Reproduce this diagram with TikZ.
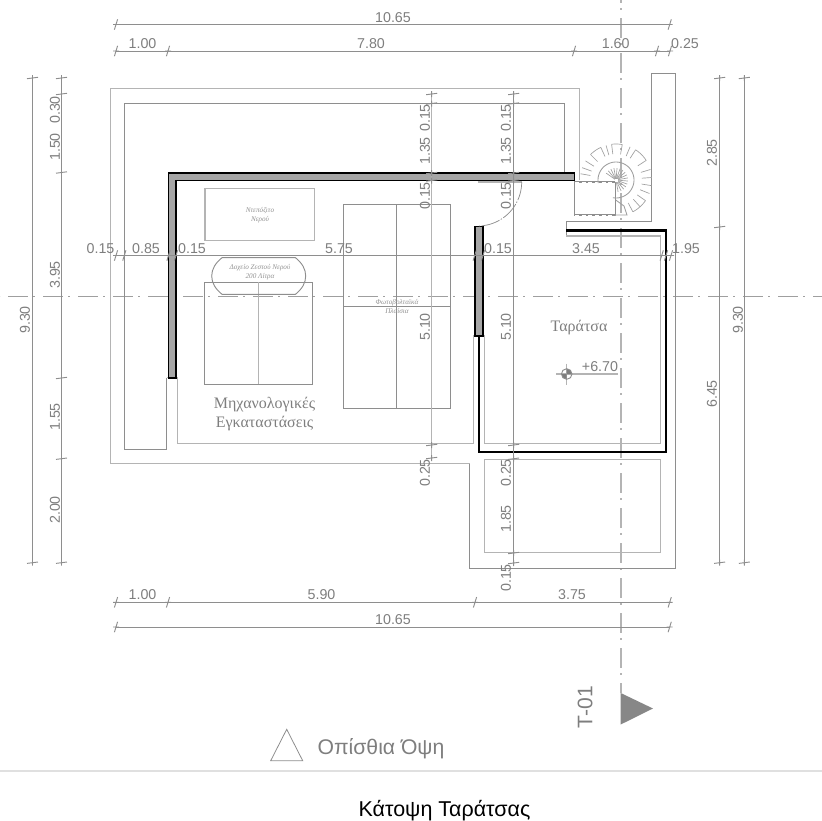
\documentclass[tikz,border=0pt]{standalone}
\usepackage{fontspec}
\setmainfont{Liberation Sans}
\newfontfamily\grserif{Liberation Serif}
\definecolor{ln}{HTML}{8E8E8E}
\definecolor{lnl}{HTML}{B4B4B4}
\definecolor{tx}{HTML}{7E7E7E}
\definecolor{wallfill}{HTML}{A6A6A6}
\tikzset{
  thinln/.style={draw=ln,line width=0.7pt},
  lightln/.style={draw=lnl,line width=0.85pt},
  dimline/.style={draw=ln,line width=0.7pt},
  dimtext/.style={text=tx,font=\fontsize{10.7}{12}\selectfont,inner sep=0pt},
  dimtextv/.style={dimtext,rotate=90},
  wallshape/.style={fill=wallfill,draw=black,line width=1.15pt},
  blackwall/.style={draw=black,line width=2.1pt},
  smalltext/.style={text=tx!85,font=\grserif\itshape\fontsize{5.4}{6}\selectfont,inner sep=0pt},
  roomtext/.style={text=tx,font=\grserif\fontsize{12}{13.5}\selectfont,inner sep=0pt,align=center},
  tread/.style={draw=ln!85,line width=0.5pt}
}
\newcommand{\htick}[2]{\draw[dimline] (#1-1.6,#2+5.2) -- (#1+1.6,#2-5.2) (#1-3,#2) -- (#1+3,#2);}
\newcommand{\vtick}[2]{\draw[dimline] (#1-5.5,#2+0.7) -- (#1+5.5,#2-0.7) (#1,#2-3) -- (#1,#2+3);}
\begin{document}
\begin{tikzpicture}[x=0.75pt,y=-0.75pt]
\useasboundingbox (0,0) rectangle (822,821);
% axes
\draw[draw=ln!85,line width=0.65pt,dash pattern=on 15pt off 3.75pt on 1.5pt off 6pt,dash phase=20.25pt] (0,296) -- (822,296);
\draw[draw=lnl,line width=0.85pt,dash pattern=on 15pt off 3.75pt on 1.5pt off 6pt,dash phase=12.75pt] (621,0) -- (621,693);
% roof outline
\draw[lightln] (579.3,173) -- (579.3,88.5) -- (110.5,88.5) -- (110.5,463.7) -- (469.7,463.7);
\draw[thinln] (469.7,463.7) -- (469.7,568) -- (675.3,568) -- (675.3,73.3) -- (651.3,73.3) -- (651.3,221.3) -- (566,221.3) -- (566,236);
\draw[lightln] (566,236) -- (660.3,236) -- (660.3,443.7) -- (484.3,443.7) -- (484.3,336) -- (473.3,336) -- (473.3,443.7) -- (177.7,443.7) -- (177.7,377.7) -- (166.7,377.7);
\draw[thinln] (166.7,377.7) -- (166.7,449) -- (124.3,449) -- (124.3,103.3) -- (564.3,103.3) -- (564.3,173);
\draw[lightln] (579.3,173) -- (579.3,180);
\draw[lightln] (484.3,459.7) rectangle (660.3,552.7);
% equipment
\draw[lightln] (205,188.3) rectangle (314.3,240.3);
\draw[thinln] (204.7,384.3) -- (204.7,282.3) -- (312.7,282.3) -- (312.7,384.3) -- cycle;
\draw[lightln] (258.7,282.3) -- (258.7,384.3);
\draw[thinln] (343,204.3) rectangle (450.7,408.3);
\draw[thinln] (396.7,204.3) -- (396.7,408.3);
\draw[thinln] (343,306) -- (450.7,306);
\draw[thinln] (222,257.7) -- (295.5,257.7) .. controls (302,263) and (305.7,269) .. (305.7,276) .. controls (305.7,283) and (302,289) .. (295.5,294.3) -- (222,294.3) .. controls (215.5,289) and (211.7,283) .. (211.7,276) .. controls (211.7,269) and (215.5,263) .. (222,257.7) -- cycle;
% walls
\draw[wallshape] (168.7,378) -- (168.7,173.2) -- (574.3,173.2) -- (574.3,180.6) -- (176,180.6) -- (176,378) -- cycle;
\draw[wallshape] (475,336) -- (475,226.5) -- (483,226.5) -- (483,336) -- cycle;
\draw[blackwall] (479,336) -- (479,452) -- (666,452) -- (666,230.5) -- (566,230.5);
% door
\draw[draw=lnl,line width=1.6pt] (477.7,182) -- (521.7,182);
\draw[draw=ln,line width=0.55pt,dash pattern=on 14pt off 1.2pt on 1pt off 1.2pt] plot[domain=0:90,samples=24,variable=\t] ({477.7+44*cos(\t)},{182+44*sin(\t)});
% stair
\draw[thinln] (574.3,182) -- (574.3,215);
\draw[thinln] (615.7,182) -- (615.7,215);
\foreach \yy in {182,215}{
  \draw[draw=ln,line width=2.2pt] (574,\yy) -- (615.7,\yy);
  \draw[draw=white,line width=0.5pt,dash pattern=on 3pt off 2pt] (575,\yy) -- (615,\yy);
}
\draw[tread,line width=0.65pt] plot[domain=190:-100,samples=50,variable=\t] ({616+18*cos(\t)},{180-18*sin(\t)});
\foreach \a in {-80,-65,...,150}{
  \draw[tread] (616,180) -- ({616+12*cos(\a)},{180-12*sin(\a)});
}
\foreach \a in {-62,-48,-35,-22,-9,4,17,33,57,67,80,97,106,115,135,148,160,170}{
  \draw[tread] ({616+26*cos(\a)},{180-26*sin(\a)}) -- ({616+36*cos(\a)},{180-36*sin(\a)});
}
\foreach \a/\b in {-62/-35,33/57,80/97,115/135}{
  \draw[tread] plot[domain=\a:\b,samples=7,variable=\t] ({616+36*cos(\t)},{180-36*sin(\t)});
}
\draw[tread,line width=0.65pt] (615.7,200) -- (624,206) -- (627,215) -- (616,215);
\fill[white] (614.5,178.5) rectangle (617.5,181.5);
% dimension lines
\draw[dimline] (116,24.5) -- (669.7,24.5);
\draw[dimline] (116,51) -- (669.7,51);
\draw[dimline] (116,602.3) -- (669.7,602.3);
\draw[dimline] (116,627) -- (669.7,627);
\draw[dimline] (116,255.5) -- (671,255.5);
\draw[dimline] (32.5,78) -- (32.5,562.7);
\draw[dimline] (61.5,78) -- (61.5,562.7);
\draw[dimline] (719.7,78) -- (719.7,562.7);
\draw[dimline] (744.3,78) -- (744.3,562.7);
\draw[draw=lnl,line width=0.8pt] (431.7,94) -- (431.7,458);
\draw[dimline] (513.7,94) -- (513.7,563);
\foreach \xx/\yy in {116/24.5,669.7/24.5,116/51,168/51,574/51,657/51,670/51,116/602.3,168/602.3,475/602.3,669.7/602.3,116/627,669.7/627,116/255.5,124.3/255.5,168.5/255.5,176/255.5,474.7/255.5,483/255.5,661.7/255.5,666/255.5,671/255.5}{\htick{\xx}{\yy}}
\foreach \xx/\yy in {32.5/78,32.5/562.7,61.5/78,61.5/94,61.5/172.5,61.5/378,61.5/458.7,61.5/562.7,719.7/78,719.7/227,719.7/562.7,744.3/78,744.3/562.7,431.7/94,431.7/103.5,431.7/173,431.7/180.5,431.7/445,431.7/458,513.7/94,513.7/103.5,513.7/173,513.7/180.5,513.7/445,513.7/458.7,513.7/553,513.7/563}{\vtick{\xx}{\yy}}
% horizontal labels
\foreach \xx/\yy/\t [count=\i] in {393/18/10.65,142.5/44/1.00,371/44/7.80,615.7/44/1.60,685/44/0.25,100.5/248.5/0.15,146/248.5/0.85,192/248.5/0.15,339/248.5/5.75,498/248.5/0.15,586/248.5/3.45,686/248.5/1.95,142.5/595/1.00,321.5/595/5.90,572/595/3.75,393/620/10.65,600/367/+6.70}{
  \node[dimtext] (hl\i) at (\xx,\yy) {\t};
}
% vertical labels
\foreach \xx/\yy/\t [count=\i] in {25/320/9.30,55/110/0.30,55/147/1.50,55/275/3.95,55/417/1.55,55/510/2.00,425/118/0.15,425/151/1.35,425/196/0.15,425/327/5.10,425/473/0.25,506/118/0.15,506/151/1.35,506/196/0.15,506/327/5.10,506/473/0.25,506/519/1.85,506/578/0.15,712/153/2.85,712/394/6.45,738/320/9.30}{
  \node[dimtextv] (vl\i) at (\xx,\yy) {\t};
}
% room labels
\node[roomtext] (mech) at (264.5,414) {Μηχανολογικές\\[0.1pt]Εγκαταστάσεις};
\node[roomtext] (roof) at (579,328) {Ταράτσα};
\node[smalltext,align=center] (tank) at (260,215) {Ντεπόζιτο\\[1pt]Νερού};
\node[smalltext,align=center] (boiler) at (260,272) {Δοχείο Ζεστού Νερού\\[1pt]200 Λίτρα};
\node[smalltext,align=center] (pv) at (397,306.5) {Φωτοβολταϊκά\\[1pt]Πλαίσια};
% level mark
\draw[lightln] (556,374) -- (618.3,374);
\draw[lightln] (566.7,363.5) -- (566.7,384.5);
\fill[tx] (566.7,374) -- (572,374) arc[start angle=0,end angle=-90,radius=5.3] -- cycle;
\fill[tx] (566.7,374) -- (561.4,374) arc[start angle=180,end angle=90,radius=5.3] -- cycle;
\draw[draw=ln,line width=0.7pt] (566.7,374) circle[radius=5.3];
% section mark
\fill[fill=ln!95!black] (620.7,693) -- (620.7,724.5) -- (653,708.5) -- cycle;
\node[text=tx,font=\fontsize{15.8}{18}\selectfont,rotate=90,inner sep=0pt] (sec) at (585,707) {T-01};
% view
\draw[thinln,line width=0.6pt] (270.7,760.7) -- (302.7,760.7) -- (286.7,729.3) -- cycle;
\node[text=tx,font=\fontsize{15.9}{17}\selectfont,inner sep=0pt] (view) at (381,749) {Οπίσθια Όψη};
\draw[draw=black!12,line width=0.8pt] (0,771) -- (822,771);
\node[text=black,font=\fontsize{16.1}{17}\selectfont,inner sep=0pt] (title) at (444.5,810.5) {Κάτοψη Ταράτσας};
\end{tikzpicture}
\end{document}
